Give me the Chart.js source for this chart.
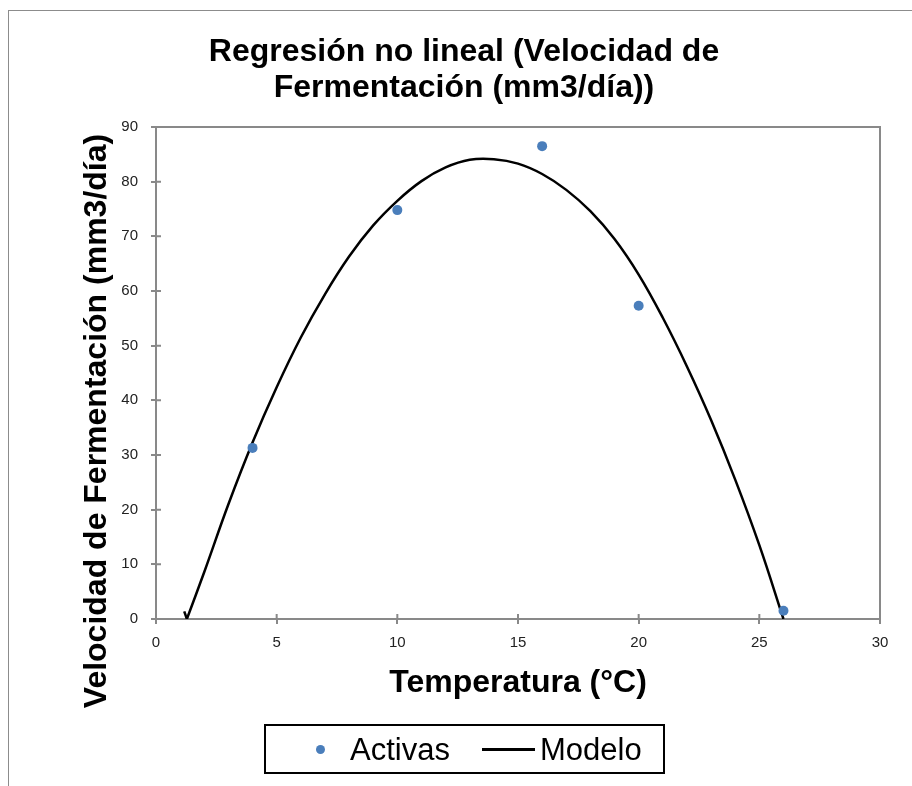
<!DOCTYPE html>
<html>
<head>
<meta charset="utf-8">
<script src="https://cdn.jsdelivr.net/npm/chart.js@4.4.1/dist/chart.umd.min.js"></script>
<style>
  html, body { margin: 0; padding: 0; background: #fff; overflow: hidden; }
  #wrap { position: relative; width: 912px; height: 786px; }
  #frame { position: absolute; left: 8px; top: 10px; width: 1000px; height: 1000px; border: 1px solid #8c8c8c; }
  canvas { position: absolute; left: 0; top: 0; }
  .legend { position: absolute; left: 264px; top: 724px; width: 401px; height: 50px; box-sizing: border-box; border: 2px solid #000; }
  .legend span { position: absolute; }
  .lbl { font-family: 'Liberation Sans', Arial, sans-serif; font-size: 31px; line-height: 36px; color: #000; top: 6px; }
  .dot { width: 9px; height: 9px; border-radius: 50%; background: #4a7ebb; left: 50px; top: 19px; }
  .ln { width: 53px; height: 3px; background: #000; left: 216px; top: 22px; }
</style>
</head>
<body>
<div id="wrap">
  <div id="frame"></div>
  <canvas id="chart" width="912" height="786"></canvas>
  <div class="legend">
    <span class="dot"></span><span class="lbl" style="left:84px">Activas</span>
    <span class="ln"></span><span class="lbl" style="left:274px">Modelo</span>
  </div>
</div>
<script>
// measured points (Activas)
const temps = [4, 10, 16, 20, 26];
const activas = [31.3, 74.8, 86.5, 57.3, 1.5];

// fitted model curve
// small hook at the left end of the curve
const hookTemps = [1.17, 1.28];
const hookVel = [1.4, 0];
// main arch
const modelTemps = [1.28, 2, 3, 4, 5, 6, 7, 8, 9, 10, 11, 12, 13, 14, 15, 16, 17, 18, 19, 20, 21, 22, 23, 24, 25, 26];
const modelVel = [0, 8.6, 21.0, 32.3, 42.4, 51.5, 59.4, 66.3, 72.0, 76.5, 80.1, 82.6, 84.0, 84.1, 83.3, 81.4, 78.5, 74.6, 69.5, 63.0, 55.1, 46.2, 36.4, 25.5, 13.5, 0];

const xTicks = [0, 5, 10, 15, 20, 25, 30];
const yTicks = [0, 10, 20, 30, 40, 50, 60, 70, 80, 90];

const titleLines = ['Regresión no lineal (Velocidad de', 'Fermentación (mm3/día))'];
const xTitle = 'Temperatura (°C)';
const yTitle = 'Velocidad de Fermentación (mm3/día)';

const AXIS_GRAY = '#898989';
const BOLD = 'bold 32px "Liberation Sans", Arial, sans-serif';

// Excel-like frame: top/right border, inner half of the tick marks, titles
const excelFrame = {
  id: 'excelFrame',
  beforeDatasetsDraw(chart) {
    const { ctx, chartArea: a, scales: { x, y } } = chart;
    ctx.save();
    ctx.strokeStyle = AXIS_GRAY;
    ctx.lineWidth = 2;
    ctx.beginPath();
    ctx.moveTo(a.left, a.top);
    ctx.lineTo(a.right, a.top);
    ctx.lineTo(a.right, a.bottom);
    xTicks.forEach((v) => {
      const px = x.getPixelForValue(v);
      ctx.moveTo(px, a.bottom);
      ctx.lineTo(px, a.bottom - 5);
    });
    yTicks.forEach((v) => {
      const py = y.getPixelForValue(v);
      ctx.moveTo(a.left, py);
      ctx.lineTo(a.left + 5, py);
    });
    ctx.stroke();
    ctx.restore();
  },
  afterDraw(chart) {
    const { ctx, chartArea: a } = chart;
    ctx.save();
    ctx.fillStyle = '#000';
    ctx.font = BOLD;
    ctx.textAlign = 'center';
    ctx.textBaseline = 'middle';
    ctx.fillText(titleLines[0], 464, 52);
    ctx.fillText(titleLines[1], 464, 88);
    ctx.fillText(xTitle, (a.left + a.right) / 2, 683);
    ctx.translate(97, 421);
    ctx.rotate(-Math.PI / 2);
    ctx.fillText(yTitle, 0, 0);
    ctx.restore();
  },
};

const tickFont = { family: '"Liberation Sans", Arial, sans-serif', size: 15 };
const toPoints = (xs, ys) => xs.map((t, i) => ({ x: t, y: ys[i] }));

new Chart(document.getElementById('chart'), {
  type: 'scatter',
  data: {
    datasets: [
      {
        label: 'Activas',
        data: toPoints(temps, activas),
        backgroundColor: '#4a7ebb',
        borderColor: '#4a7ebb',
        pointRadius: 5,
        pointBorderWidth: 0,
      },
      {
        label: 'Modelo',
        data: toPoints(modelTemps, modelVel),
        showLine: true,
        borderColor: '#000',
        borderWidth: 2.5,
        pointRadius: 0,
        tension: 0.4,
      },
      {
        label: 'Modelo (hook)',
        data: toPoints(hookTemps, hookVel),
        showLine: true,
        borderColor: '#000',
        borderWidth: 2.5,
        pointRadius: 0,
      },
    ],
  },
  options: {
    responsive: false,
    animation: false,
    layout: { padding: { left: 116, right: 32, top: 127, bottom: 127 } },
    plugins: {
      legend: { display: false },
      title: { display: false },
      tooltip: { enabled: false },
    },
    scales: {
      x: {
        type: 'linear',
        min: 0,
        max: 30,
        afterFit: (s) => { s.height = 40; },
        ticks: { stepSize: 5, padding: 10, font: tickFont, color: '#222' },
        grid: { drawOnChartArea: false, tickLength: 5, color: AXIS_GRAY, lineWidth: 2 },
        border: { color: AXIS_GRAY, width: 2 },
      },
      y: {
        type: 'linear',
        min: 0,
        max: 90,
        afterFit: (s) => { s.width = 40; },
        ticks: { stepSize: 10, padding: 13, font: tickFont, color: '#222' },
        grid: { drawOnChartArea: false, tickLength: 5, color: AXIS_GRAY, lineWidth: 2 },
        border: { color: AXIS_GRAY, width: 2 },
      },
    },
  },
  plugins: [excelFrame],
});
</script>
</body>
</html>
